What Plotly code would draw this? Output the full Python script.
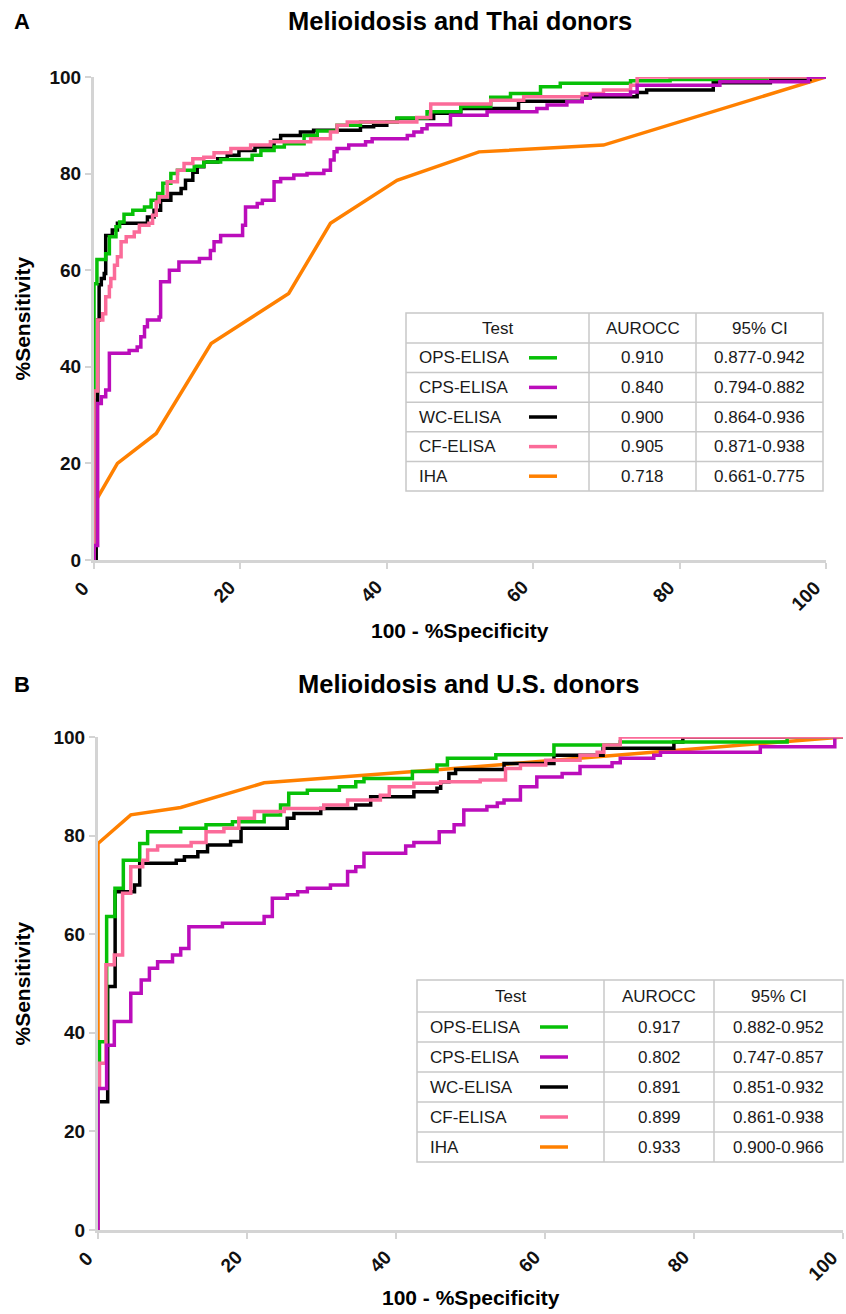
import plotly.graph_objects as go

# ---------------- data ----------------
TESTS = ["OPS-ELISA", "CPS-ELISA", "WC-ELISA", "CF-ELISA", "IHA"]
COLORS = {"OPS-ELISA": "#07c007", "CPS-ELISA": "#bb0dbb", "WC-ELISA": "#000000",
          "CF-ELISA": "#fb6b99", "IHA": "#ff8000"}

A_AUROCC = ["0.910", "0.840", "0.900", "0.905", "0.718"]
A_CI = ["0.877-0.942", "0.794-0.882", "0.864-0.936", "0.871-0.938", "0.661-0.775"]
B_AUROCC = ["0.917", "0.802", "0.891", "0.899", "0.933"]
B_CI = ["0.882-0.952", "0.747-0.857", "0.851-0.932", "0.861-0.938", "0.900-0.966"]

# Panel A: Melioidosis and Thai donors (x = 100 - %Specificity, y = %Sensitivity)
A_OPS_X = [0, 0, 0.4, 1.6, 2.1, 3.0, 3.5, 4.1, 5.3, 6.9, 7.8, 8.7, 9.4, 10.5, 11.4, 13.7, 15.0, 17.3,
           21.6, 22.8, 24.6, 26.0, 28.7, 30.5, 33.2, 36.4, 41.4, 45.5, 50.1, 54.2, 56.9, 61.0, 63.7,
           73.3, 78.7, 91.9, 100]
A_OPS_Y = [0, 57.2, 62.2, 63.4, 66.9, 69.0, 70.0, 71.6, 72.4, 73.1, 74.5, 75.9, 78.0, 80.0, 80.7, 81.5,
           82.4, 82.9, 83.8, 84.8, 85.5, 86.2, 87.9, 88.8, 90.0, 90.7, 91.5, 92.8, 93.9, 95.8, 96.6,
           98.0, 98.7, 99.2, 99.5, 100, 100]

A_WC_X = [0, 0.3, 0.5, 0.7, 1.0, 1.4, 1.6, 2.5, 3.2, 7.3, 8.2, 9.1, 10.5, 11.9, 12.5, 13.5, 14.1,
          15.0, 16.9, 18.2, 19.8, 22.0, 24.6, 25.5, 28.2, 30.0, 36.4, 38.2, 40.0, 41.4, 46.4, 50.1,
          58.0, 66.7, 74.2, 75.5, 84.6, 92.4, 97.8, 100]
A_WC_Y = [0, 33.1, 49.7, 57.0, 58.3, 59.3, 67.2, 68.3, 69.7, 71.0, 72.4, 74.5, 75.9, 76.9, 78.6,
          80.3, 81.4, 82.4, 83.1, 83.8, 84.8, 85.5, 86.9, 87.9, 88.6, 89.0, 89.7, 90.0, 90.7, 91.4,
          92.5, 93.5, 95.0, 95.9, 96.8, 97.3, 98.8, 99.5, 100, 100]

A_CF_X = [0, 0, 0.5, 1.2, 1.6, 2.1, 2.3, 2.8, 3.2, 3.7, 4.4, 5.5, 6.2, 7.5, 8.0, 8.5, 8.9, 10.0,
          11.4, 12.3, 13.5, 15.0, 16.4, 18.7, 21.4, 24.1, 29.6, 32.3, 33.2, 34.6, 44.1, 46.0, 54.2,
          58.7, 66.7, 69.6, 73.3, 74.2, 100]
A_CF_Y = [0, 35.0, 49.7, 51.0, 54.5, 56.6, 58.3, 61.0, 62.8, 65.9, 66.9, 67.9, 69.3, 69.7, 71.4,
          74.1, 75.2, 78.3, 80.7, 82.1, 83.1, 83.4, 84.3, 85.2, 85.9, 86.6, 87.2, 88.6, 90.0, 90.7,
          91.6, 94.4, 95.2, 95.9, 96.6, 97.3, 98.3, 100, 100]

A_CPS_X = [0, 0, 0.5, 1.0, 1.6, 2.1, 4.8, 5.9, 6.4, 6.9, 7.3, 8.9, 9.1, 10.3, 11.6, 14.4, 15.9,
           16.4, 17.3, 20.3, 20.7, 22.3, 23.0, 24.6, 25.5, 27.3, 29.1, 31.4, 32.3, 32.8, 33.2, 34.8,
           37.1, 38.0, 42.8, 43.7, 44.8, 45.5, 48.7, 53.7, 60.5, 61.9, 64.6, 66.7, 67.8, 73.3, 74.2,
           85.5, 97.6, 100]
A_CPS_Y = [0, 3.0, 32.4, 33.8, 35.2, 42.8, 43.4, 44.1, 46.2, 48.3, 49.7, 50.3, 57.6, 60.0, 61.7,
           62.4, 64.1, 65.9, 67.2, 69.3, 73.1, 73.8, 74.5, 78.3, 79.0, 79.7, 80.0, 80.7, 82.8, 84.5,
           85.2, 85.9, 86.6, 87.2, 87.9, 88.6, 89.3, 90.1, 92.1, 92.8, 93.5, 94.2, 94.9, 95.6, 96.3,
           96.9, 98.3, 99.0, 100, 100]

A_IHA_X = [0, 0.3, 3.2, 8.5, 16.0, 26.6, 32.3, 41.4, 52.6, 69.6, 100]
A_IHA_Y = [0, 12.4, 20.0, 26.2, 44.8, 55.2, 69.7, 78.6, 84.5, 85.9, 100]

# Panel B: Melioidosis and U.S. donors
B_OPS_X = [0, 0, 0.2, 1.16, 2.28, 3.4, 5.6, 6.66, 11.1, 14.5, 18.05, 22.3, 24.5, 25.6, 28.1, 32.4,
           34.6, 35.7, 42.2, 45.5, 46.9, 53.4, 61.2, 70.1, 92.5, 100]
B_OPS_Y = [0, 33.8, 38.2, 63.6, 69.3, 75.0, 78.4, 80.8, 81.5, 82.2, 82.8, 84.2, 86.2, 88.6, 89.2,
           89.9, 90.9, 91.6, 93.0, 94.3, 95.7, 96.4, 98.4, 99.0, 100, 100]

B_WC_X = [0, 0, 1.3, 2.3, 4.9, 5.6, 10.5, 11.6, 13.4, 14.7, 17.8, 19.2, 25.4, 26.3, 29.9, 34.6,
          36.6, 42.4, 45.5, 46.0, 47.1, 48.0, 54.5, 61.2, 67.8, 77.3, 78.5, 100]
B_WC_Y = [0, 26.0, 49.4, 68.6, 70.0, 74.4, 75.0, 75.7, 76.7, 78.1, 78.8, 81.5, 83.5, 84.5, 85.5,
          86.2, 87.9, 88.9, 89.6, 90.9, 92.6, 93.4, 94.6, 96.3, 97.7, 99.0, 100, 100]

B_CF_X = [0, 0, 0.2, 1.07, 2.19, 3.3, 4.4, 6.0, 6.66, 8.0, 12.5, 14.5, 16.9, 18.9, 21.0, 25.0,
          30.3, 33.5, 37.9, 39.1, 42.4, 46.0, 51.3, 54.7, 56.7, 60.1, 64.7, 67.0, 67.9, 70.1, 100]
B_CF_Y = [0, 29.0, 33.8, 53.8, 55.8, 68.3, 73.7, 75.0, 77.1, 77.9, 78.6, 80.8, 81.5, 83.5, 84.9,
          85.5, 86.2, 87.2, 88.2, 89.9, 90.6, 90.9, 91.3, 93.6, 94.3, 95.3, 96.3, 96.9, 98.4, 100, 100]

B_CPS_X = [0, 0, 1.16, 2.19, 4.4, 5.8, 6.9, 8.0, 10.0, 11.1, 12.2, 16.7, 22.3, 23.4, 25.4, 26.8,
           28.1, 31.2, 33.5, 34.6, 35.7, 41.3, 42.4, 45.8, 47.8, 49.1, 52.2, 53.6, 54.5, 56.7, 58.9,
           62.3, 64.7, 69.0, 70.1, 74.6, 75.5, 88.9, 98.9]
B_CPS_Y = [0, 28.7, 37.5, 42.3, 48.0, 50.7, 53.1, 54.4, 55.8, 57.1, 61.5, 62.2, 63.6, 67.3, 68.0,
           68.6, 69.3, 70.0, 72.7, 73.7, 76.4, 77.9, 78.6, 80.8, 82.2, 85.2, 85.9, 86.6, 87.2, 89.9,
           91.9, 92.6, 94.0, 94.8, 95.7, 96.3, 96.9, 98.0, 99.7]

B_IHA_X = [0, 0, 4.4, 11.1, 22.3, 46.0, 72.8, 100]
B_IHA_Y = [0, 78.4, 84.2, 85.7, 90.7, 93.4, 96.7, 100]

PANEL_A = {"IHA": (A_IHA_X, A_IHA_Y), "WC-ELISA": (A_WC_X, A_WC_Y), "OPS-ELISA": (A_OPS_X, A_OPS_Y),
           "CF-ELISA": (A_CF_X, A_CF_Y), "CPS-ELISA": (A_CPS_X, A_CPS_Y)}
PANEL_B = {"IHA": (B_IHA_X, B_IHA_Y), "WC-ELISA": (B_WC_X, B_WC_Y), "OPS-ELISA": (B_OPS_X, B_OPS_Y),
           "CF-ELISA": (B_CF_X, B_CF_Y), "CPS-ELISA": (B_CPS_X, B_CPS_Y)}

TICKS = [0, 20, 40, 60, 80, 100]

# ---------------- layout helpers ----------------
W, H = 846, 1314
FONT = "Liberation Sans, Arial, Helvetica, sans-serif"
AXIS_GRAY = "#d4d4d4"
GRID_GRAY = "#c8c8c8"


def px(x):
    return x / W


def py(y):
    return 1 - y / H


fig = go.Figure()

panels = [
    ("A", "Melioidosis and Thai donors", PANEL_A, "x", "y", (94, 826, 77, 560), A_AUROCC, A_CI,
     (406, 589, 696, 823, 313, 343, 29.6), 460),
    ("B", "Melioidosis and U.S. donors", PANEL_B, "x2", "y2", (98, 843, 737, 1230), B_AUROCC, B_CI,
     (417, 604, 714, 843, 980, 1012, 30.0), 468),
]

shapes = []
annotations = []

for (letter, title, data, xa, ya, box, auroc, ci, tbl, title_x) in panels:
    L, R, T, B = box
    for name, (xs, ys) in data.items():
        fig.add_trace(go.Scatter(
            x=xs, y=ys, mode="lines", name=name, xaxis=xa, yaxis=ya,
            line=dict(color=COLORS[name], width=3.5,
                      shape="linear" if name == "IHA" else "hv"),
            showlegend=False, hoverinfo="skip"))

    axis_common = dict(range=[0, 100], tickvals=TICKS,
                       showgrid=False, zeroline=False, showline=True, linecolor=AXIS_GRAY,
                       linewidth=3, ticks="outside", tickcolor=AXIS_GRAY, tickwidth=2, ticklen=6,
                       tickfont=dict(family=FONT, size=19, color="#111111", weight="bold"),
                       fixedrange=True, automargin=False)
    xkey = "xaxis" if xa == "x" else "xaxis2"
    ykey = "yaxis" if ya == "y" else "yaxis2"
    fig.layout[xkey] = dict(axis_common, domain=[px(L), px(R)], anchor=ya, showticklabels=False)
    fig.layout[ykey] = dict(axis_common, domain=[py(B), py(T)], anchor=xa)

    # rotated x tick labels (top-right corner at the tick)
    for t in TICKS:
        annotations.append(dict(text=f"<b>{t}</b>", x=t, y=py(B + 14), xref=xa, yref="paper",
                                showarrow=False, textangle=-45, xshift=2,
                                font=dict(family=FONT, size=19, color="#111111"),
                                xanchor="right", yanchor="top"))

    cx = (L + R) / 2
    cy = (T + B) / 2
    title_y = 21 if letter == "A" else 684
    xt_y = 631 if letter == "A" else 1297
    annotations += [
        dict(text=f"<b>{letter}</b>", x=px(22), y=py(title_y), xref="paper", yref="paper",
             showarrow=False, font=dict(family=FONT, size=22, color="#000000"),
             xanchor="center", yanchor="middle"),
        dict(text=f"<b>{title}</b>", x=px(title_x), y=py(title_y),
             xref="paper", yref="paper", showarrow=False,
             font=dict(family=FONT, size=25.5, color="#000000"), xanchor="center", yanchor="middle"),
        dict(text="<b>100 - %Specificity</b>", x=px(cx), y=py(xt_y), xref="paper", yref="paper",
             showarrow=False, font=dict(family=FONT, size=21, color="#000000"),
             xanchor="center", yanchor="middle"),
        dict(text="<b>%Sensitivity</b>", x=px(22), y=py(cy), xref="paper", yref="paper",
             showarrow=False, textangle=-90, font=dict(family=FONT, size=21, color="#000000"),
             xanchor="center", yanchor="middle"),
    ]

    # ----- table -----
    tl, c1, c2, tr, tt, hb, rh = tbl
    tb = hb + rh * len(TESTS)
    shapes.append(dict(type="rect", xref="paper", yref="paper", x0=px(tl), x1=px(tr),
                       y0=py(tb), y1=py(tt), fillcolor="white",
                       line=dict(color=GRID_GRAY, width=1.5), layer="above"))
    for xv in (c1, c2):
        shapes.append(dict(type="line", xref="paper", yref="paper", x0=px(xv), x1=px(xv),
                           y0=py(tb), y1=py(tt), line=dict(color=GRID_GRAY, width=1.5)))
    for i in range(len(TESTS)):
        yv = hb + rh * i
        shapes.append(dict(type="line", xref="paper", yref="paper", x0=px(tl), x1=px(tr),
                           y0=py(yv), y1=py(yv), line=dict(color=GRID_GRAY, width=1.5)))
    tf = dict(family=FONT, size=17, color="#1a1a1a")
    hy = (tt + hb) / 2
    for txt, xc in (("Test", (tl + c1) / 2), ("AUROCC", (c1 + c2) / 2), ("95% CI", (c2 + tr) / 2)):
        annotations.append(dict(text=txt, x=px(xc), y=py(hy), xref="paper", yref="paper",
                                showarrow=False, font=tf, xanchor="center", yanchor="middle"))
    for i, name in enumerate(TESTS):
        ry = hb + rh * (i + 0.5)
        annotations.append(dict(text=name, x=px(tl + 11), y=py(ry), xref="paper", yref="paper",
                                showarrow=False, font=tf, xanchor="left", yanchor="middle"))
        annotations.append(dict(text=auroc[i], x=px((c1 + c2) / 2), y=py(ry), xref="paper",
                                yref="paper", showarrow=False, font=tf, xanchor="center",
                                yanchor="middle"))
        annotations.append(dict(text=ci[i], x=px((c2 + tr) / 2), y=py(ry), xref="paper",
                                yref="paper", showarrow=False, font=tf, xanchor="center",
                                yanchor="middle"))
        sx0 = tl + 123
        shapes.append(dict(type="line", xref="paper", yref="paper", x0=px(sx0), x1=px(sx0 + 28),
                           y0=py(ry), y1=py(ry), line=dict(color=COLORS[name], width=3.5)))

fig.update_layout(width=W, height=H, margin=dict(l=0, r=0, t=0, b=0),
                  paper_bgcolor="white", plot_bgcolor="white", showlegend=False,
                  shapes=shapes, annotations=annotations)

fig.write_html("out.html", config={"displayModeBar": False},
               post_script="document.body.style.margin='0px';document.body.style.overflow='hidden';")
